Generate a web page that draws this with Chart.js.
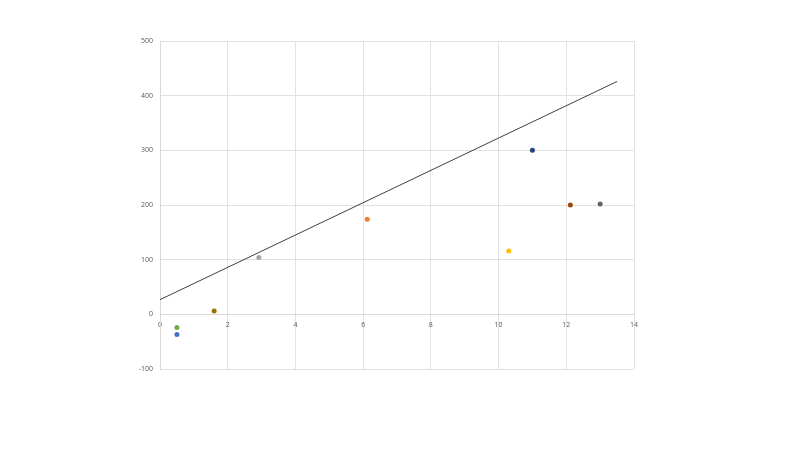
<!DOCTYPE html>
<html>
<head>
<meta charset="utf-8">
<script src="https://cdn.jsdelivr.net/npm/chart.js@4"></script>
<style>
html,body{margin:0;padding:0;background:#fff;}
#wrap{width:800px;height:450px;}
</style>
</head>
<body>
<div id="wrap"><canvas id="c" width="800" height="450"></canvas></div>
<script>
const seriesNames = ["S1","S2","S3","S4","S5","S6","S7","S8","S9"];
const xValues = [0.5, 0.5, 1.6, 2.92, 6.12, 10.3, 11.0, 12.12, 13.0];
const yValues = [-37, -24, 6, 104, 174, 116, 300, 200, 202];
const pointColors = ["#4472C4","#70AD47","#997300","#A5A5A5","#ED7D31","#FFC000","#264478","#9E480E","#636363"];
const trendX = [0, 13.5];
const trendY = [26.8, 426];
const xTicks = [0,2,4,6,8,10,12,14];
const yTicks = [-100,0,100,200,300,400,500];

const datasets = seriesNames.map((n,i)=>({
  label: n,
  type: 'scatter',
  data: [{x: xValues[i], y: yValues[i]}],
  backgroundColor: pointColors[i],
  borderColor: pointColors[i],
  pointRadius: 2.5,
  pointBorderWidth: 0,
  order: 1
}));
datasets.push({
  label: 'Trend',
  type: 'line',
  data: trendX.map((x,i)=>({x, y: trendY[i]})),
  borderColor: '#404040',
  borderWidth: 1,
  pointRadius: 0,
  fill: false,
  tension: 0,
  order: 2
});

new Chart(document.getElementById('c'), {
  type: 'scatter',
  data: { datasets },
  options: {
    responsive: false,
    animation: false,
    layout: { padding: { left: 130, right: 166, top: 41, bottom: 81 } },
    plugins: { legend: { display: false }, tooltip: { enabled: false } },
    scales: {
      x: {
        type: 'linear',
        position: { y: 0 },
        min: 0, max: 14,
        afterBuildTicks: s => { s.ticks = xTicks.map(v=>({value:v})); },
        ticks: { color: '#595959', font: { family: 'Open Sans', size: 7 }, padding: 6 },
        grid: { color: '#E2E2E2', drawTicks: false },
        border: { display: true, color: '#D9D9D9' }
      },
      y: {
        type: 'linear',
        min: -100, max: 500,
        afterBuildTicks: s => { s.ticks = yTicks.map(v=>({value:v})); },
        afterFit: s => { s.width = 30; },
        ticks: { color: '#595959', font: { family: 'Open Sans', size: 7 }, padding: 7 },
        grid: { color: '#E2E2E2', drawTicks: false },
        border: { display: true, color: '#D9D9D9' }
      }
    }
  }
});
</script>
</body>
</html>
